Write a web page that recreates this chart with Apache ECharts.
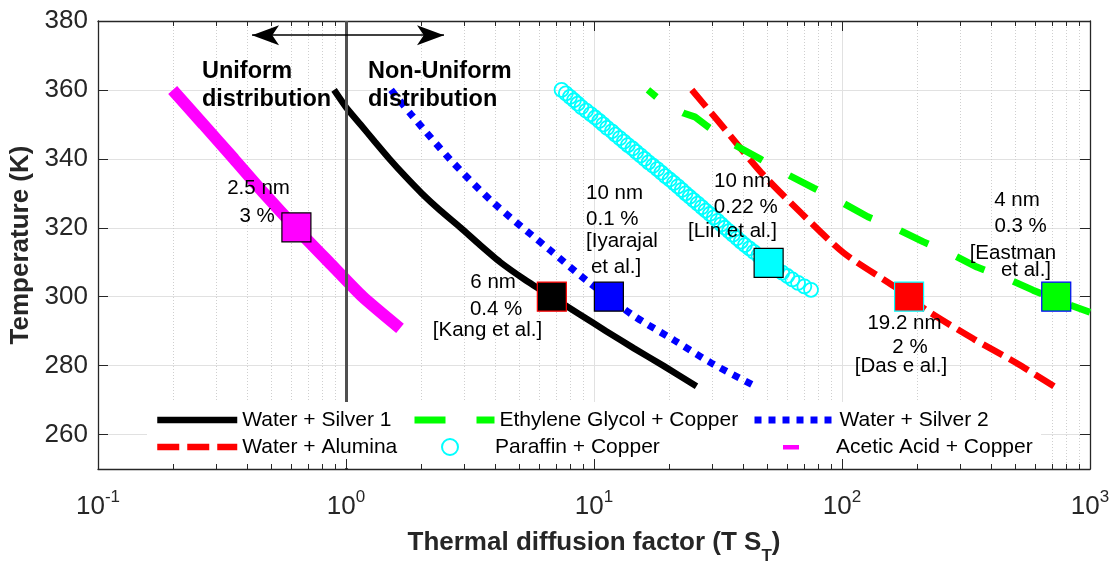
<!DOCTYPE html>
<html>
<head>
<meta charset="utf-8">
<script src="https://cdn.jsdelivr.net/npm/echarts@6/dist/echarts.min.js"></script>
<style>html,body{margin:0;padding:0;background:#fff}#chart{width:1113px;height:561px}</style>
</head>
<body>
<div id="chart"></div>
<script>
// ---------------- data ----------------
const xMin = 0.1, xMax = 1000, yMin = 250, yMax = 380;
const yTicks = [260, 280, 300, 320, 340, 360, 380];
const minorXTicks = [0.2,0.3,0.4,0.5,0.6,0.7,0.8,0.9, 2,3,4,5,6,7,8,9, 20,30,40,50,60,70,80,90, 200,300,400,500,600,700,800,900];

const silver1T = [360, 355, 350, 345, 340, 335, 330, 325, 320, 315, 310, 305, 300, 295, 290, 285, 280, 274];
const silver1X = [0.895, 1.0, 1.143, 1.306, 1.496, 1.73, 2.02, 2.40, 2.90, 3.47, 4.19, 5.25, 6.74, 8.7, 11.2, 14.5, 19.0, 25.9];

const aluminaX = [24.8, 31.8, 47.5, 68.6, 102, 163, 220, 340, 507, 719];
const aluminaT = [360, 350.8, 335.8, 324.2, 312.6, 302.9, 296.0, 287.7, 280.7, 273.9];

const glycolX = [16.5, 18.1, 20.5, 22.9, 25.5, 28.8, 33, 37, 46.7, 59, 77, 99, 127, 163, 213, 272, 350, 458, 589, 760, 1000];
const glycolT = [360, 357.6, 355, 353.3, 352.2, 349.3, 346.5, 344, 340, 335.8, 331.5, 327.5, 323.2, 320, 315.9, 312.6, 308.6, 305.4, 301.9, 298.6, 295.5];

const paraffinT = [360,359,358,357,356,355,354,353,352,351,350,349,348,347,346,345,344,343,342,341,340,339,338,337,336,335,334,333,332,331,330,329,328,327,326,325,324,323,322,321,320,319,318,317,316,315,314,313,312,311,310,309,308,307,306,305,304,303,302];
const paraffinX = [7.4,7.7,8.0,8.3,8.6,8.9,9.3,9.7,10.1,10.5,10.9,11.3,11.8,12.2,12.7,13.2,13.7,14.3,14.8,15.4,16.0,16.6,17.3,18.0,18.7,19.4,20.2,21.0,21.8,22.6,23.4,24.3,25.2,26.2,27.2,28.2,29.3,30.4,31.5,32.6,33.7,35.0,36.3,37.7,39.1,40.6,42.3,44.1,46.0,48.0,50.1,52.4,54.8,57.4,60.2,63.1,66.5,70.5,75.0];

const silver2X = [1.52, 1.83, 2.64, 3.91, 6.65, 9.3, 14.3, 21, 29.8, 44.5];
const silver2T = [360, 352.9, 339.7, 327.4, 313.5, 304.8, 294.7, 287.4, 280.7, 274.1];

const aceticT = [360, 350, 340, 330, 320, 310, 300, 290.8];
const aceticX = [0.2, 0.266, 0.353, 0.467, 0.627, 0.854, 1.166, 1.651];

// highlighted experimental points (squares)
const markerX = [0.631, 6.76, 11.48, 50.6, 186.4, 731];
const markerT = [320.1, 300, 300, 309.8, 300, 300];

// boundary line and double arrow
const boundaryX = 1;
const arrowX = [0.418, 2.484];
const arrowT = 375.9;

// annotations
const noteText = ['2.5 nm','3 %','6 nm','0.4 %','[Kang et al.]','10 nm','0.1 %','[Iyarajal','et al.]','10 nm','0.22 %','[Lin et al.]','4 nm','0.3 %','[Eastman','et al.]','19.2 nm','2 %','[Das e al.]'];
const noteX = [0.444, 0.438, 3.92, 4.03, 3.72, 9.29, 9.29, 9.29, 9.72, 39.7, 40.9, 36.2, 508, 525, 489, 552, 178.6, 188, 172.9];
const noteT = [331.4, 323.3, 304.3, 296.3, 290.3, 329.9, 322.3, 316.0, 308.5, 333.4, 325.9, 319.1, 328.1, 320.4, 312.5, 307.7, 292.2, 285.3, 279.9];
const regionText = ['Uniform', 'distribution', 'Non-Uniform', 'distribution'];
const regionX = [0.2626, 0.2626, 1.2267, 1.2267];
const regionT = [365.3, 357.1, 365.3, 357.1];

// ---------------- styles ----------------
const FONT = '"Liberation Sans", Arial, Helvetica, sans-serif';
const AX = '#262626';
const noteAlign = ['center','center','center','center','center','left','left','left','left','center','center','center','center','center','center','center','center','center','center'];
const markerFill = ['#ff00ff', '#000000', '#0000ff', '#00ffff', '#ff0000', '#00ff00'];
const markerEdge = ['#000000', '#ff0000', '#000000', '#000000', '#00ffff', '#0000ff'];

function pairs(xs, ts) { return xs.map((x, i) => [x, ts[i]]); }

const lineDefs = [
  {name: 'Water + Silver 1', xs: silver1X, ts: silver1T, color: '#000000', width: 6.5, type: 'solid', smooth: 0.2, offset: 0},
  {name: 'Water + Alumina', xs: aluminaX, ts: aluminaT, color: '#ff0000', width: 6.5, type: [22, 8], smooth: 0.25, offset: 0},
  {name: 'Ethylene Glycol + Copper', xs: glycolX, ts: glycolT, color: '#00ff00', width: 7, type: [31, 31], smooth: 0, offset: 20},
  null,
  {name: 'Water + Silver 2', xs: silver2X, ts: silver2T, color: '#0000ff', width: 7, type: [7, 7], smooth: 0.3, offset: 0},
  {name: 'Acetic Acid + Copper', xs: aceticX, ts: aceticT, color: '#ff00ff', width: 12, type: 'solid', smooth: 0.2, offset: 0}
];

const series = [];
lineDefs.forEach((d, idx) => {
  if (d === null) {
    series.push({
      type: 'scatter', name: 'Paraffin + Copper', z: 2,
      data: pairs(paraffinX, paraffinT),
      symbol: 'circle', symbolSize: 14,
      itemStyle: {color: 'rgba(0,0,0,0)', borderColor: '#00ffff', borderWidth: 1.8, opacity: 1},
      emphasis: {disabled: true}, silent: true
    });
    return;
  }
  const s = {
    type: 'line', name: d.name, z: 2,
    data: pairs(d.xs, d.ts),
    symbol: 'none', smooth: d.smooth,
    lineStyle: {color: d.color, width: d.width, type: d.type, cap: 'butt', dashOffset: d.offset},
    itemStyle: {color: d.color},
    emphasis: {disabled: true}, silent: true
  };
  if (idx === 0) {
    s.markLine = {
      silent: true, z: 2.5, animation: false,
      label: {show: false}, emphasis: {disabled: true},
      data: [
        [
          {coord: [boundaryX, yMin], symbol: 'none', lineStyle: {color: '#505050', width: 3, type: 'solid'}},
          {coord: [boundaryX, yMax], symbol: 'none', lineStyle: {color: '#505050', width: 3, type: 'solid'}}
        ],
        [
          {coord: [arrowX[0], arrowT], symbol: 'arrow', symbolSize: [15, 27], lineStyle: {color: '#000', width: 1.5, type: 'solid'}},
          {coord: [arrowX[1], arrowT], symbol: 'arrow', symbolSize: [15, 27], lineStyle: {color: '#000', width: 1.5, type: 'solid'}}
        ]
      ]
    };
  }
  series.push(s);
});

// squares
series.push({
  type: 'scatter', name: 'points', z: 3, silent: true,
  symbol: 'rect', symbolSize: 29,
  data: markerX.map((x, i) => ({value: [x, markerT[i]], itemStyle: {color: markerFill[i], borderColor: markerEdge[i], borderWidth: 1.2, opacity: 1}})),
  emphasis: {disabled: true}
});

// minor grid (dotted) and minor ticks
series.push({
  type: 'custom', name: 'minorGrid', z: 1, silent: true,
  data: minorXTicks.map(v => [v, yMin]),
  encode: {x: 0, y: 1},
  renderItem: function (params, api) {
    const x = api.value(0);
    const p0 = api.coord([x, yMin]), p1 = api.coord([x, yMax]);
    const px = Math.round(p0[0]) + 0.5;
    return {type: 'line', shape: {x1: px, y1: p0[1], x2: px, y2: p1[1]},
      style: {stroke: '#cfcfcf', lineWidth: 1, lineDash: [1, 2]}};
  }
});
series.push({
  type: 'custom', name: 'minorTicks', z: 7, silent: true,
  data: minorXTicks.map(v => [v, yMin]),
  encode: {x: 0, y: 1},
  renderItem: function (params, api) {
    const x = api.value(0);
    const p0 = api.coord([x, yMin]), p1 = api.coord([x, yMax]);
    const px = Math.round(p0[0]) + 0.5;
    return {type: 'group', children: [
      {type: 'line', shape: {x1: px, y1: p0[1], x2: px, y2: p0[1] - 5}, style: {stroke: AX, lineWidth: 1}},
      {type: 'line', shape: {x1: px, y1: p1[1], x2: px, y2: p1[1] + 5}, style: {stroke: AX, lineWidth: 1}}
    ]};
  }
});

// annotations
series.push({
  type: 'scatter', name: 'notes', z: 6, silent: true, symbolSize: 0,
  itemStyle: {color: 'rgba(0,0,0,0)', opacity: 1},
  label: {show: true, position: 'inside', color: '#000', opacity: 1, fontSize: 20.5, fontFamily: FONT, verticalAlign: 'middle', textBorderWidth: 0},
  data: noteText.map((t, i) => ({value: [noteX[i], noteT[i]], label: {formatter: t, align: noteAlign[i]}})),
  emphasis: {disabled: true}
});
series.push({
  type: 'scatter', name: 'regions', z: 6, silent: true, symbolSize: 0,
  itemStyle: {color: 'rgba(0,0,0,0)', opacity: 1},
  label: {show: true, position: 'inside', color: '#000', opacity: 1, fontSize: 23.5, fontWeight: 'bold', fontFamily: FONT, verticalAlign: 'middle', align: 'left', textBorderWidth: 0},
  data: regionText.map((t, i) => ({value: [regionX[i], regionT[i]], label: {formatter: t}})),
  emphasis: {disabled: true}
});

// legends (one per entry, laid out as 3 columns x 2 rows)
const legendPos = [
  {name: 'Water + Silver 1', left: 154, top: 408},
  {name: 'Ethylene Glycol + Copper', left: 411, top: 408},
  {name: 'Water + Silver 2', left: 751, top: 408},
  {name: 'Water + Alumina', left: 154, top: 435},
  {name: 'Paraffin + Copper', left: 441, top: 435},
  {name: 'Acetic Acid + Copper', left: 751, top: 435}
];
const legends = legendPos.map(p => {
  const lg = {
    show: true, z: 8, selectedMode: false, padding: 0,
    left: p.left, top: p.top, itemWidth: 80, itemHeight: 14, itemGap: 0,
    textStyle: {fontSize: 21, color: '#000', fontFamily: FONT, lineHeight: 24},
    lineStyle: {width: 'inherit', dashOffset: 0},
    data: [p.name]
  };
  if (p.name === 'Paraffin + Copper') {
    lg.itemHeight = 16;
  } else if (p.name === 'Acetic Acid + Copper') {
    lg.data = [{name: p.name, icon: 'path://M0,0h0.01v0.01h-0.01zM80,14h-0.01v-0.01h0.01zM32,5h16v4.5h-16z'}];
  } else {
    lg.itemStyle = {opacity: 0};
  }
  return lg;
});

const option = {
  animation: false,
  backgroundColor: '#ffffff',
  textStyle: {fontFamily: FONT},
  grid: {left: 98, right: 23, top: 21, bottom: 92, containLabel: false, outerBoundsMode: 'none'},
  legend: legends,
  graphic: {elements: [
    {type: 'rect', silent: true, z: 5, shape: {x: 147, y: 402, width: 894, height: 66}, style: {fill: '#ffffff'}}
  ]},
  xAxis: [
    {
      type: 'log', logBase: 10, min: xMin, max: xMax, position: 'bottom', z: 7,
      name: '{b|Thermal diffusion factor (T S}{sub|T}{b|)}',
      nameLocation: 'middle', nameGap: 52,
      nameTextStyle: {color: AX, rich: {
        b: {fontSize: 26, fontWeight: 'bold', fontFamily: FONT, color: AX, lineHeight: 44},
        sub: {fontSize: 17, fontWeight: 'bold', fontFamily: FONT, color: AX, lineHeight: 17, verticalAlign: 'bottom'}
      }},
      axisLine: {show: true, lineStyle: {color: AX, width: 1.3}},
      axisTick: {show: true, inside: true, length: 10, lineStyle: {color: AX, width: 1}},
      axisLabel: {
        margin: 20, color: AX,
        formatter: v => '{b|10}{s|' + Math.round(Math.log10(v)) + '}',
        rich: {
          b: {fontSize: 26, fontFamily: FONT, color: AX, lineHeight: 35},
          s: {fontSize: 17, fontFamily: FONT, color: AX, lineHeight: 17, verticalAlign: 'top'}
        }
      },
      splitLine: {show: false}, minorTick: {show: false}, minorSplitLine: {show: false}
    },
    {
      type: 'log', logBase: 10, min: xMin, max: xMax, position: 'top', z: 0,
      axisLine: {show: true, lineStyle: {color: AX, width: 1.3}},
      axisTick: {show: true, inside: true, length: 10, lineStyle: {color: AX, width: 1}},
      axisLabel: {show: false},
      splitLine: {show: true, lineStyle: {color: '#e1e1e1', width: 1}}
    }
  ],
  yAxis: [
    {
      type: 'value', min: yMin, max: yMax, position: 'left', z: 7,
      name: 'Temperature (K)', nameLocation: 'middle', nameGap: 62,
      nameTextStyle: {fontSize: 26, fontWeight: 'bold', color: AX, fontFamily: FONT},
      axisLine: {show: true, lineStyle: {color: AX, width: 1.3}},
      axisTick: {show: true, inside: true, length: 10, customValues: yTicks, lineStyle: {color: AX, width: 1}},
      axisLabel: {fontSize: 26, color: AX, fontFamily: FONT, margin: 10, customValues: yTicks},
      splitLine: {show: false}
    },
    {
      type: 'value', min: yMin, max: yMax, position: 'right', z: 0,
      axisLine: {show: true, lineStyle: {color: AX, width: 1.3}},
      axisTick: {show: true, inside: true, length: 10, customValues: yTicks, lineStyle: {color: AX, width: 1}},
      axisLabel: {show: false, customValues: yTicks},
      splitLine: {show: true, lineStyle: {color: '#e1e1e1', width: 1}}
    }
  ],
  series: series
};

const chart = echarts.init(document.getElementById('chart'));
chart.setOption(option);
</script>
</body>
</html>
